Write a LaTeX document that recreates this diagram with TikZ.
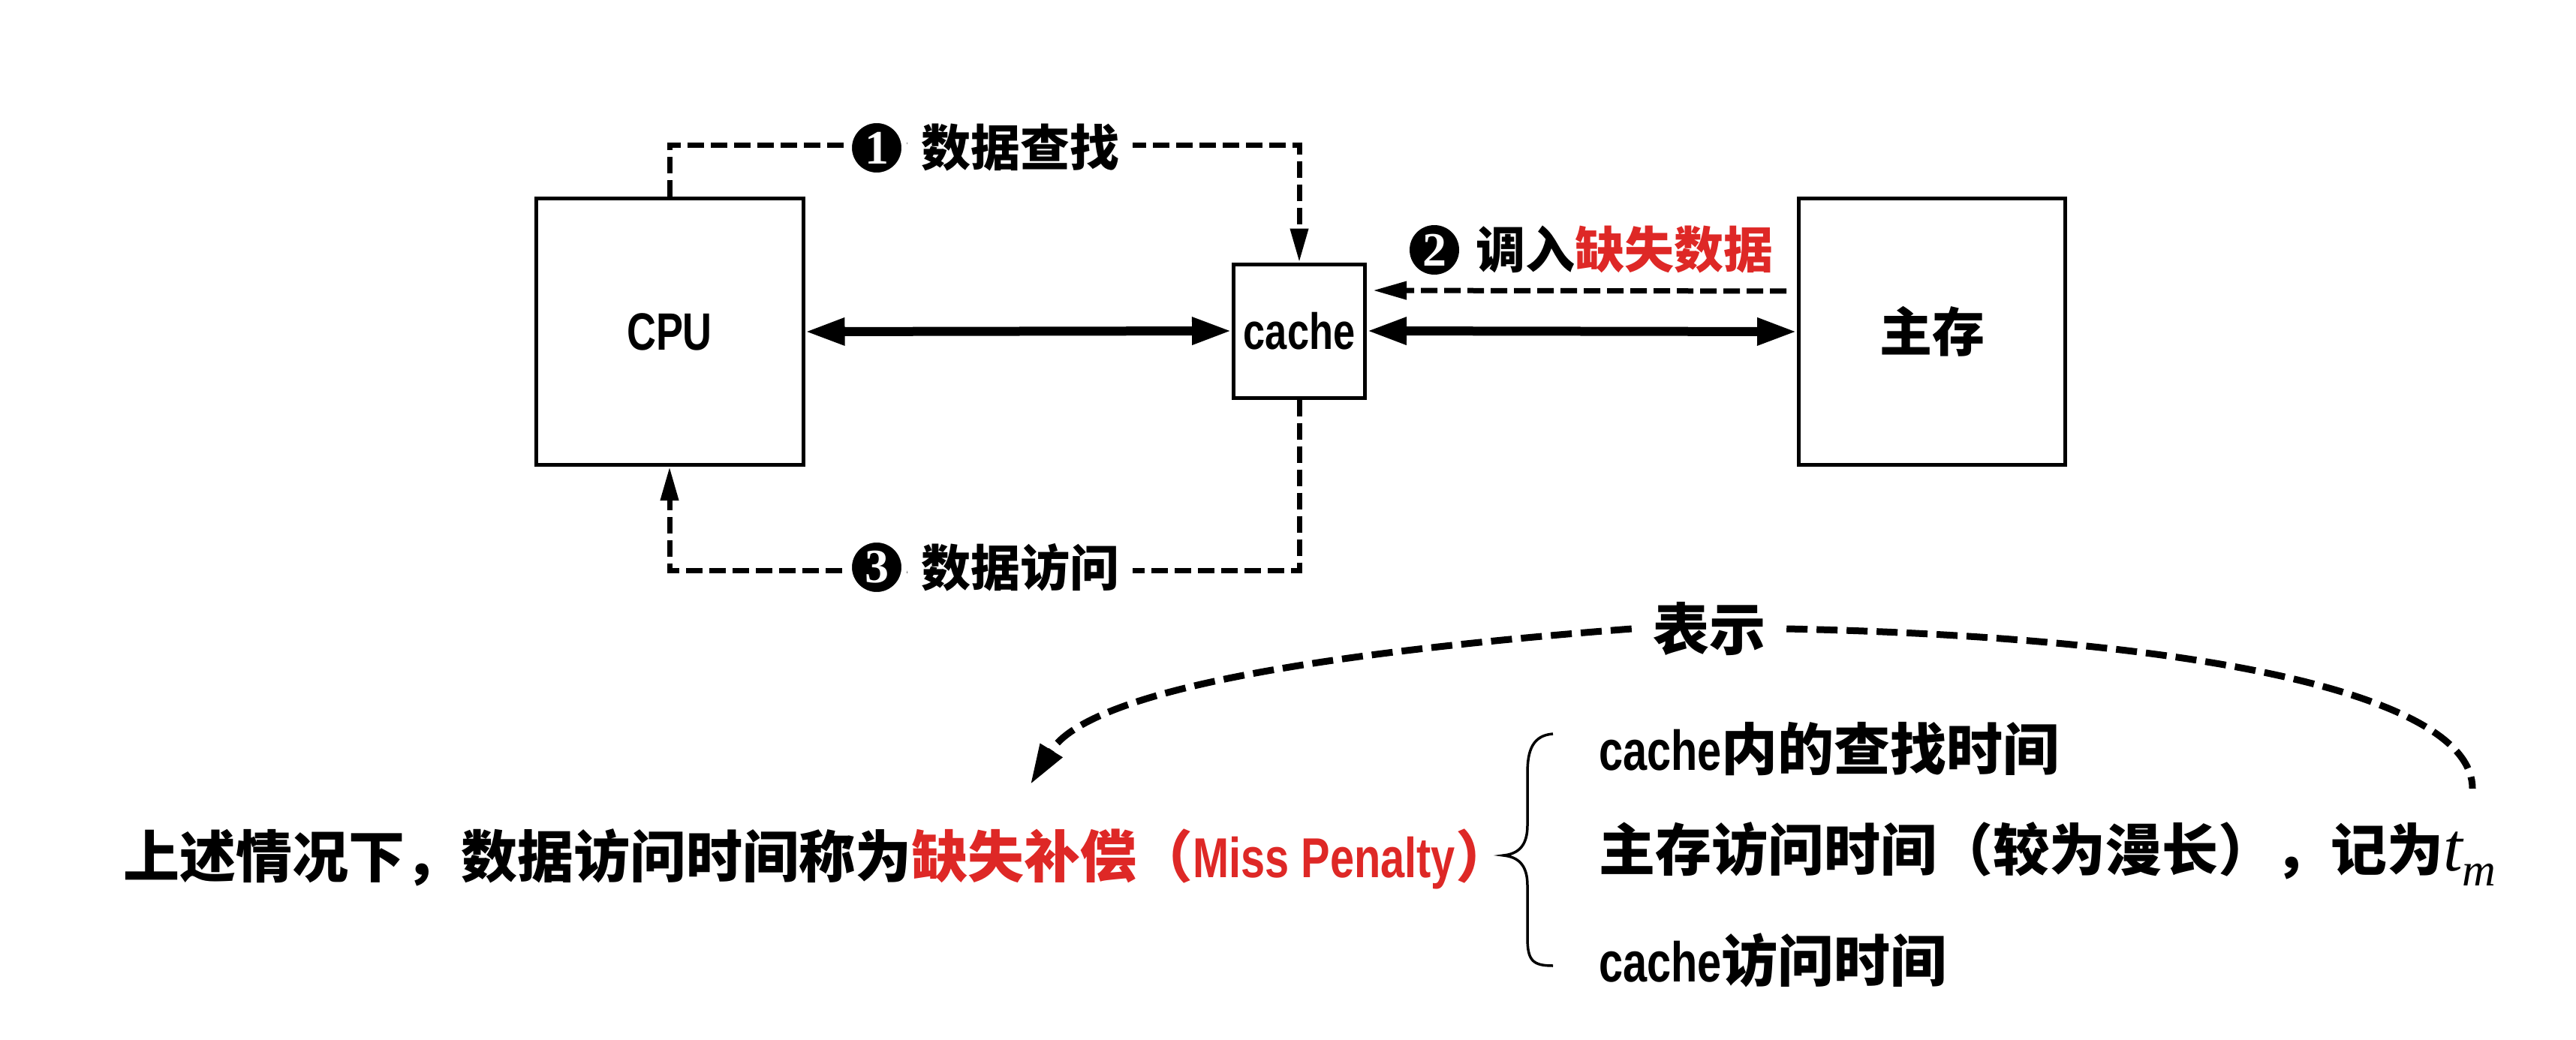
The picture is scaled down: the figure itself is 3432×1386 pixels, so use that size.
\documentclass[tikz,border=0pt]{standalone}
\usepackage{fontspec}
\setmainfont{Liberation Sans}[FakeStretch=0.77]
\newfontfamily\cjk{Noto Sans CJK SC}
\newfontfamily\lat{Liberation Sans}[FakeStretch=0.77]
\newfontfamily\numf{Liberation Serif}
\usetikzlibrary{arrows.meta,shapes.geometric}
\definecolor{kred}{RGB}{222,40,38}
\newcommand\zh[1]{{\cjk\bfseries #1}}
\newcommand\en[1]{{\lat\bfseries #1}}
\tikzset{
  box/.style={draw, line width=5pt, inner sep=0pt},
  dsh/.style={line width=7pt, dash pattern=on 22pt off 9pt, -{Triangle[length=45pt,width=23pt]}},
  thickarr/.style={line width=12pt, {Triangle[length=53pt,width=34pt]}-{Triangle[length=53pt,width=34pt]}},
  curvearr/.style={line width=9pt, dash pattern=on 28pt off 12pt},
  numc/.style={ellipse, fill=black, draw=white, line width=8pt, text=white, minimum width=74pt, minimum height=74pt, inner sep=0pt, font=\numf\bfseries\fontsize{64}{64}\selectfont},
  lbl/.style={fill=white, inner xsep=18pt, inner ysep=4pt, font=\fontsize{66}{76}\selectfont},
  big/.style={inner sep=4pt, font=\fontsize{75}{88}\selectfont},
}
\begin{document}
\begin{tikzpicture}[x=1pt,y=-1pt]
\path[fill=white, use as bounding box] (0,0) rectangle (3432,1386);
% boxes
\node[box, minimum width=356pt, minimum height=355pt, font=\lat\bfseries\fontsize{70}{80}\selectfont] (cpu) at (892,442) {CPU};
\node[box, minimum width=175pt, minimum height=178pt, font=\lat\bfseries\fontsize{68}{80}\selectfont] (cache) at (1731,441) {cache};
\node[box, minimum width=355pt, minimum height=355pt, font=\cjk\bfseries\fontsize{70}{80}\selectfont] (mem) at (2574,442) {主存};
% coordinates for dashed routes
\coordinate (topy) at (0,193);
\coordinate (boty) at (0,760);
% connectors
\draw[thickarr] (cpu.east) -- (cache.west);
\draw[thickarr] (cache.east) -- (mem.west);
\draw[dsh] (cpu.north) -- (cpu.north |- topy) -| (cache.north);
\draw[dsh] (cache.south) -- (cache.south |- boty) -| (cpu.south);
\draw[dsh, shorten <=14pt, shorten >=8pt] ([yshift=54pt]mem.west) -- ([yshift=54pt]cache.east);
% labels
\node[numc] (c1) at (1168,197) {1};
\node[lbl, anchor=west] (t1) at (c1.east) {\zh{数据查找}};
\node[numc] (c3) at (1168,756) {3};
\node[lbl, anchor=west] (t3) at (c3.east) {\zh{数据访问}};
\node[numc, draw=none, minimum width=66pt, minimum height=66pt] (c2) at (1911,333) {2};
\node[lbl, anchor=west, fill=none] (t2) at (c2.east) {\zh{调入}\textcolor{kred}{\zh{缺失数据}}};
% lower part
\node[big, inner xsep=28pt] (bs) at (2277,838) {\zh{表示}};
\coordinate (tip) at (1373,1045);
\coordinate (rend) at (3294,1051);
\draw[curvearr, -{Triangle[length=53pt,width=33pt]}] (bs.west) .. controls (1760,870) and (1450,920) .. (tip);
\draw[curvearr] (bs.east) .. controls (2950,850) and (3294,930) .. (rend);
\node[big, anchor=west] (main) at (160,1145) {\zh{上述情况下，数据访问时间称为}\textcolor{kred}{\zh{缺失补偿（}\en{Miss Penalty}\zh{）}}};
\draw[line width=3.5pt] (2069,978) .. controls (2042,980) and (2035,1000) .. (2035,1030) -- (2035,1100) .. controls (2035,1128) and (2022,1138) .. (2003,1140) .. controls (2022,1142) and (2035,1152) .. (2035,1180) -- (2035,1250) .. controls (2035,1280) and (2042,1287) .. (2069,1287);
\node[big, anchor=west] (i1) at (2126,998) {\en{cache}\zh{内的查找时间}};
\node[big, anchor=west] (i2) at (2126,1138) {\zh{主存访问时间（较为漫长），记为}{\numf\itshape\fontsize{92}{92}\selectfont t\raisebox{-0.22em}{\fontsize{62}{62}\selectfont m}}};
\node[big, anchor=west] (i3) at (2126,1280) {\en{cache}\zh{访问时间}};
\end{tikzpicture}
\end{document}
